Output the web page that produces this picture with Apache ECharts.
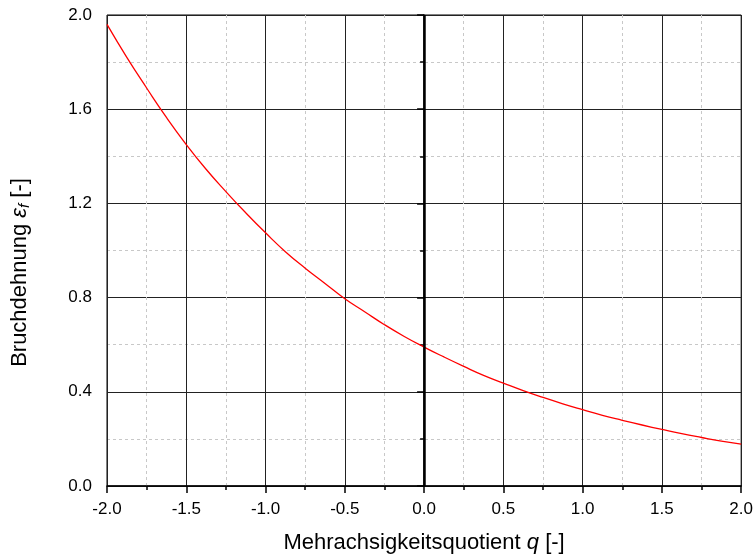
<!DOCTYPE html>
<html><head><meta charset="utf-8">
<script src="https://cdn.jsdelivr.net/npm/echarts@6/dist/echarts.min.js"></script>
<style>html,body{margin:0;padding:0;background:#fff}#c{width:756px;height:559px}</style>
</head><body><div id="c"></div>
<script>
const qValues = [-2,-1.875,-1.75,-1.625,-1.5,-1.375,-1.25,-1.125,-1,-0.875,-0.75,-0.625,-0.5,-0.375,-0.25,-0.125,0,0.125,0.25,0.375,0.5,0.625,0.75,0.875,1,1.125,1.25,1.375,1.5,1.625,1.75,1.875,2];
const strainValues = [1.96,1.82,1.69,1.565,1.45,1.345,1.25,1.16,1.075,0.995,0.925,0.86,0.795,0.74,0.685,0.635,0.59,0.548,0.508,0.47,0.437,0.405,0.376,0.349,0.324,0.30,0.279,0.259,0.24,0.222,0.206,0.191,0.178];
const xTicks = {min:-2, max:2, interval:0.5};
const yTicks = {min:0, max:2, interval:0.4};

const chart = echarts.init(document.getElementById('c'));
const font = 'Liberation Sans, Arial, sans-serif';
const tfs = 22;
chart.setOption({
  animation:false,
  grid:{left:107, right:13, top:15, bottom:71, show:true, borderColor:'#000', borderWidth:1},
  xAxis:{type:'value', min:xTicks.min, max:xTicks.max, interval:xTicks.interval,
    name:'{n|Mehrachsigkeitsquotient }{i|q}{n| [-]}', nameLocation:'middle', nameGap:46,
    nameTextStyle:{rich:{n:{fontFamily:font,fontSize:tfs,color:'#000'},i:{fontFamily:font,fontSize:tfs,fontStyle:'italic',color:'#000'}}},
    axisLine:{onZero:false, lineStyle:{color:'#000', width:1.5}},
    axisTick:{inside:false, length:7, lineStyle:{color:'#000', width:1.5}},
    minorTick:{show:true, splitNumber:2, length:4, lineStyle:{color:'#000', width:1.5}},
    axisLabel:{fontFamily:font, fontSize:17, color:'#000', margin:15, formatter:v=>v.toFixed(1)},
    splitLine:{show:true, lineStyle:{color:'#222', width:1}},
    minorSplitLine:{show:true, lineStyle:{color:'#c8c8c8', width:1, type:[3,3]}}
  },
  yAxis:{type:'value', min:yTicks.min, max:yTicks.max, interval:yTicks.interval,
    name:'{n|Bruchdehnung }{i|ε}{s|f}{n| [-]}', nameLocation:'middle', nameGap:75,
    nameTextStyle:{padding:[0,44,0,0], rich:{n:{fontFamily:font,fontSize:tfs,color:'#000'},i:{fontFamily:font,fontSize:tfs,fontStyle:'italic',color:'#000'},s:{fontFamily:font,fontSize:15,fontStyle:'italic',color:'#000',padding:[10,0,0,0]}}},
    axisLine:{show:true, lineStyle:{color:'#000', width:1.5}},
    axisTick:{show:true, inside:false, length:7, lineStyle:{color:'#000', width:1.5}},
    minorTick:{show:true, splitNumber:2, length:4, lineStyle:{color:'#000', width:1.5}},
    axisLabel:{fontFamily:font, fontSize:17, color:'#000', margin:15, formatter:v=>v.toFixed(1)},
    splitLine:{show:true, lineStyle:{color:'#222', width:1}},
    minorSplitLine:{show:true, lineStyle:{color:'#c8c8c8', width:1, type:[3,3]}}
  },
  series:[{type:'line', data:qValues.map((q,i)=>[q,strainValues[i]]), smooth:true, symbol:'none',
    lineStyle:{color:'#ff0000', width:1.3},
    markLine:{silent:true, symbol:'none', label:{show:false}, lineStyle:{color:'#000', width:2.5, type:'solid'}, data:[{xAxis:0}]}
  }]
});
</script></body></html>
